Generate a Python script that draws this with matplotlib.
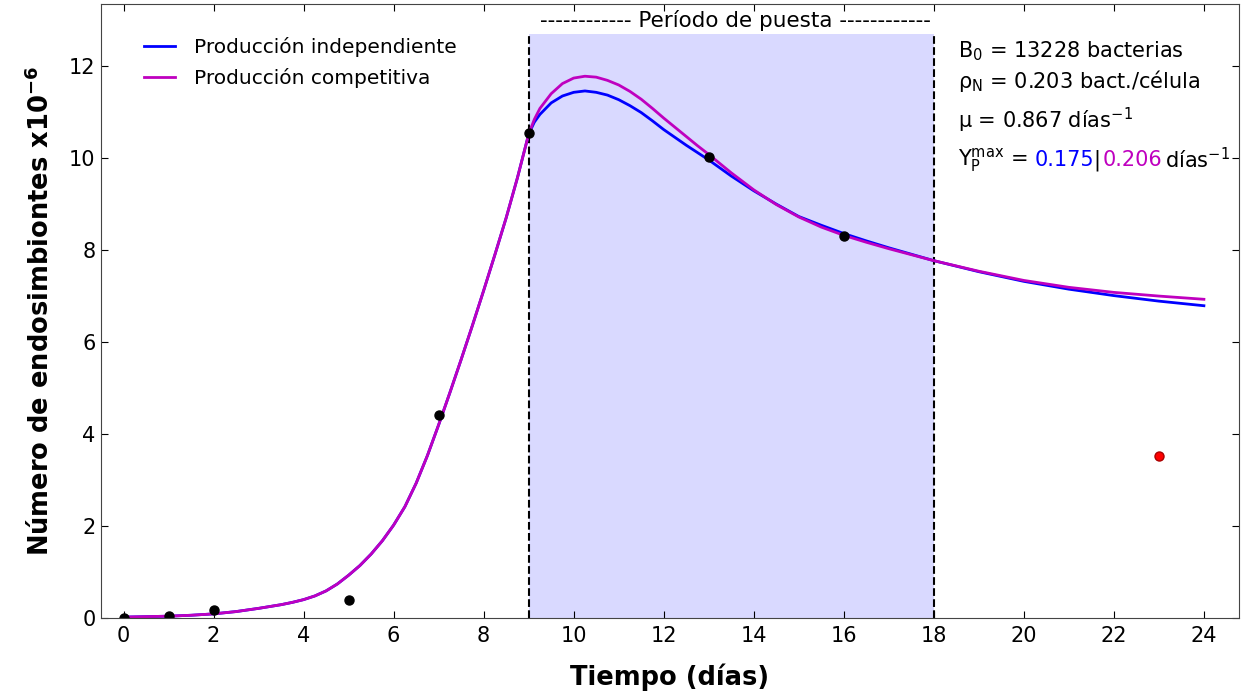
import matplotlib
matplotlib.use('Agg')
import matplotlib.pyplot as plt

plt.rcParams['font.family'] = 'DejaVu Sans'
plt.rcParams['mathtext.default'] = 'regular'

# measured data
days_obs = [0, 1, 2, 5, 7, 9, 13, 16]
endo_obs = [0.0, 0.05, 0.18, 0.40, 4.42, 10.55, 10.02, 8.31]
day_outlier = [23]
endo_outlier = [3.53]

# model curves
days_model = [0, 0.5, 1, 1.5, 2, 2.5, 3, 3.25, 3.5, 3.75, 4, 4.25, 4.5, 4.75,
              5, 5.25, 5.5, 5.75, 6, 6.25, 6.5, 6.75, 7, 7.25, 7.5, 7.75, 8,
              8.25, 8.5, 8.75, 9, 9.125, 9.25, 9.5, 9.75, 10, 10.25, 10.5,
              10.75, 11, 11.25, 11.5, 11.75, 12, 12.25, 12.5, 12.75, 13, 13.5,
              14, 14.5, 15, 15.5, 16, 16.5, 17, 17.5, 18, 19, 20, 21, 22, 23, 24]
rise = [0.02, 0.03, 0.04, 0.06, 0.09, 0.14, 0.21, 0.25, 0.29, 0.34, 0.40, 0.48,
        0.59, 0.74, 0.93, 1.14, 1.39, 1.68, 2.02, 2.42, 2.93, 3.53, 4.20, 4.90,
        5.62, 6.36, 7.12, 7.90, 8.70, 9.57, 10.52]
prod_indep = rise + [10.78, 10.95, 11.20, 11.35, 11.43, 11.46, 11.43, 11.37,
                     11.27, 11.14, 10.99, 10.81, 10.62, 10.45, 10.28, 10.12, 9.96,
                     9.61, 9.29, 9.00, 8.73, 8.54, 8.36, 8.20, 8.05, 7.91, 7.77,
                     7.53, 7.32, 7.15, 7.01, 6.89, 6.79]
prod_comp = rise + [10.84, 11.08, 11.40, 11.62, 11.74, 11.78, 11.76, 11.69,
                    11.59, 11.45, 11.28, 11.08, 10.87, 10.67, 10.47, 10.27, 10.08,
                    9.68, 9.31, 8.99, 8.72, 8.50, 8.32, 8.17, 8.03, 7.90, 7.77,
                    7.54, 7.34, 7.19, 7.08, 7.00, 6.93]

period_start, period_end, period_top = 9, 18, 12.7

fig = plt.figure(figsize=(12.41, 6.93), dpi=100)
ax = fig.add_axes([0.0814, 0.1082, 0.917, 0.886])

ax.fill_between([period_start, period_end], 0, period_top, color='b', alpha=0.15, lw=0)
ax.plot([period_start, period_start], [0, period_top], 'k--', lw=1.5)
ax.plot([period_end, period_end], [0, period_top], 'k--', lw=1.5)
ax.text((period_start + period_end) / 2 + 0.1, 13.0,
        '------------ Período de puesta ------------',
        ha='center', va='center', fontsize=15.5)

ax.plot(days_model, prod_indep, color='b', lw=2, label='Producción independiente')
ax.plot(days_model, prod_comp, color='m', lw=2, label='Producción competitiva')
ax.plot(days_obs, endo_obs, 'ko', ms=6.5)
ax.plot(day_outlier, endo_outlier, 'o', color='r', mec='#aa0000', ms=6.5)

fs = 15
ax.text(18.53, 12.32, r'B$_0$ = 13228 bacterias', fontsize=fs, va='center')
ax.text(18.53, 11.68, r'$\rho_N$ = 0.203 bact./célula', fontsize=fs, va='center')
ax.text(18.53, 10.83, r'$\mu$ = 0.867 días$^{-1}$', fontsize=fs, va='center')
ax.text(18.53, 9.96, r'Y$_P^{max}$ =', fontsize=fs, va='center')
ax.text(20.24, 9.96, '0.175', fontsize=fs, va='center', color='b')
ax.text(21.55, 9.96, '|', fontsize=fs, va='center')
ax.text(21.76, 9.96, '0.206', fontsize=fs, va='center', color='m')
ax.text(23.13, 9.96, r'días$^{-1}$', fontsize=fs, va='center')

ax.set_xlim(-0.5, 24.78)
ax.set_ylim(0, 13.35)
ax.set_xticks(range(0, 25, 2))
ax.set_yticks(range(0, 13, 2))
ax.tick_params(direction='in', top=True, right=True, labelsize=15, length=5)
ax.tick_params(axis='x', pad=6)
ax.tick_params(axis='y', pad=4)
for sp in ax.spines.values():
    sp.set_color('#444444')

ax.set_xlabel('Tiempo (días)', fontsize=18.5, fontweight='bold', labelpad=12)
ax.set_ylabel(r'Número de endosimbiontes x10$^{\mathbf{-6}}$', fontsize=18.5,
              fontweight='bold', labelpad=10)

ax.legend(loc='upper left', frameon=False, fontsize=14.5, bbox_to_anchor=(0.022, 0.975),
          handlelength=1.55, handletextpad=0.9)

plt.savefig('out.png')
